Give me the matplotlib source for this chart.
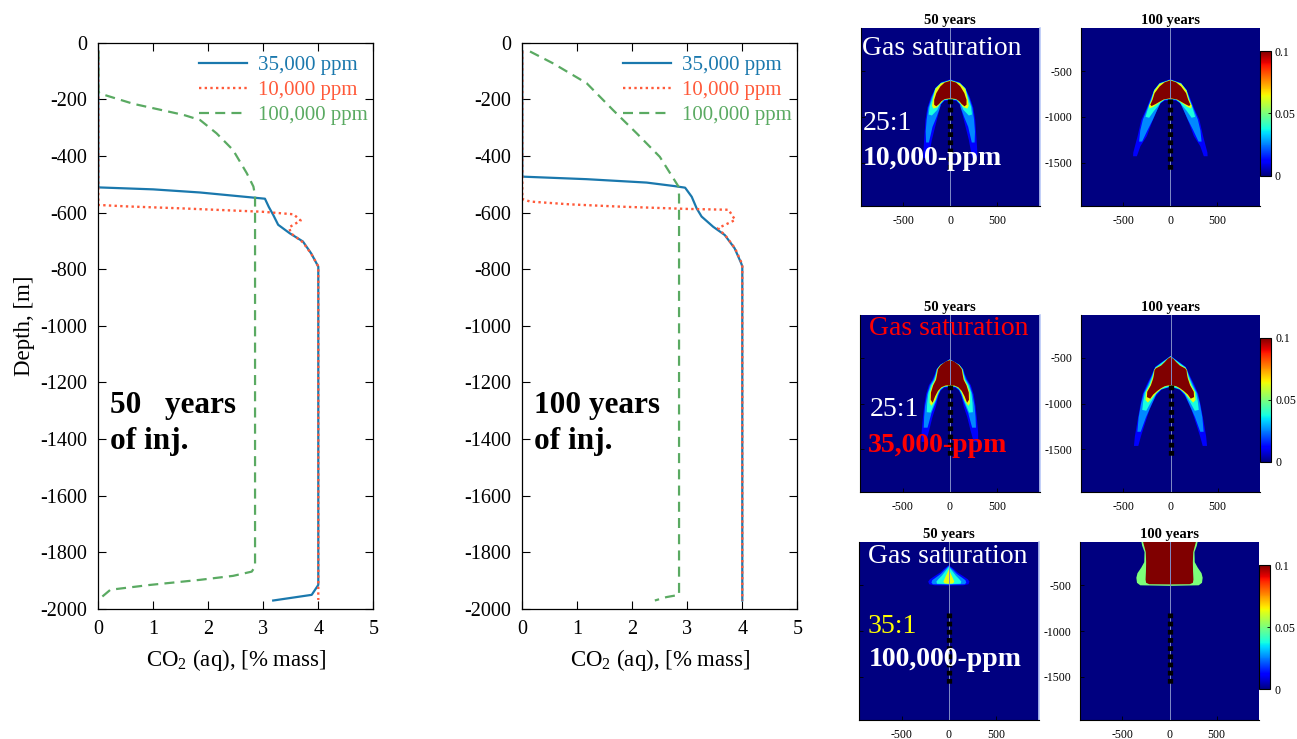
import numpy as np
import matplotlib
matplotlib.use('Agg')
import matplotlib.pyplot as plt
from matplotlib.patches import Polygon
from matplotlib import cm, colors

plt.rcParams['font.family'] = ['Liberation Serif', 'DejaVu Serif']
plt.rcParams['mathtext.fontset'] = 'custom'
plt.rcParams['mathtext.rm'] = 'Liberation Serif'
plt.rcParams['mathtext.it'] = 'Liberation Serif:italic'
plt.rcParams['axes.unicode_minus'] = False

# ---------------- profile data: CO2(aq) [% mass] vs depth [m] ----------------
series_labels = ['35,000 ppm', '10,000 ppm', '100,000 ppm']

# 50 years of injection
co2_35k_50 = [0, 0, 1.0, 1.85, 3.03, 3.1, 3.18, 3.27, 3.48, 3.72, 3.87, 4.0, 4.0, 3.88, 3.18]
dep_35k_50 = [-30, -511, -518, -529, -551, -580, -608, -643, -673, -702, -744, -791, -1915, -1950, -1970]
co2_10k_50 = [0, 0, 0.5, 1.5, 2.98, 3.55, 3.68, 3.47, 3.50, 3.72, 3.87, 4.0, 4.0]
dep_10k_50 = [-30, -573, -578, -585, -597, -606, -628, -652, -673, -705, -745, -790, -1968]
co2_100k_50 = [0, 0, 0.02, 0.64, 1.55, 1.85, 2.15, 2.45, 2.70, 2.82, 2.85, 2.85, 2.79, 2.45, 1.85, 0.94, 0.22, 0]
dep_100k_50 = [-30, -170, -179, -216, -255, -273, -320, -379, -461, -508, -540, -1850, -1868, -1883, -1897, -1915, -1932, -1968]

# 100 years of injection
co2_35k_100 = [0, 0, 1.17, 2.26, 2.75, 2.96, 3.08, 3.17, 3.26, 3.47, 3.68, 3.86, 3.98, 4.0, 4.0]
dep_35k_100 = [-30, -473, -482, -494, -506, -512, -544, -585, -614, -650, -679, -726, -779, -790, -1970]
co2_10k_100 = [0, 0, 0.14, 0.87, 1.78, 2.99, 3.75, 3.87, 3.56, 3.62, 3.69, 3.87, 3.99, 4.0, 4.0]
dep_10k_100 = [-30, -552, -561, -571, -579, -587, -590, -626, -655, -668, -680, -727, -779, -790, -1970]
co2_100k_100 = [0.14, 0.56, 1.17, 1.65, 2.08, 2.50, 2.84, 2.85, 2.85, 2.62, 2.41]
dep_100k_100 = [-31, -73, -143, -238, -320, -403, -508, -540, -1950, -1958, -1970]

x_ticks = [0, 1, 2, 3, 4, 5]
y_ticks = [0, -200, -400, -600, -800, -1000, -1200, -1400, -1600, -1800, -2000]

# ---------------- gas saturation plume outlines (right half, mirrored) ----------------
A_blue = [(0,-590),(95,-620),(155,-680),(205,-780),(244,-900),(264,-1030),(276,-1210),(288,-1400),(284,-1450),(232,-1445),(196,-1250),(150,-1060),(120,-940),(100,-866),(62,-826),(0,-820)]
A_lblue = [(0,-596),(98,-627),(157,-684),(200,-790),(234,-900),(252,-1030),(262,-1160),(258,-1280),(228,-1280),(190,-1110),(146,-1000),(116,-915),(100,-860),(62,-818),(0,-812)]
A_cyan = [(0,-599),(100,-631),(159,-690),(193,-800),(220,-890),(230,-975),(196,-985),(140,-925),(110,-862),(66,-814),(0,-808)]
A_yel = [(0,-602),(102,-635),(160,-697),(184,-805),(196,-878),(180,-910),(140,-895),(108,-856),(70,-810),(0,-804)]
A_red = [(0,-607),(60,-625),(106,-668),(149,-741),(172,-814),(172,-868),(150,-885),(120,-860),(96,-830),(60,-806),(0,-797)]

B_blue = [(0,-588),(112,-628),(170,-700),(212,-800),(258,-920),(308,-1030),(348,-1210),(394,-1390),(396,-1430),(356,-1430),(318,-1320),(250,-1210),(192,-1050),(144,-930),(106,-854),(60,-824),(0,-820)]
B_lblue = [(0,-593),(114,-633),(171,-705),(208,-810),(250,-920),(292,-1030),(320,-1150),(332,-1270),(300,-1270),(240,-1140),(186,-1030),(140,-925),(106,-850),(60,-816),(0,-812)]
B_cyan = [(0,-595),(115,-636),(172,-710),(204,-815),(238,-910),(264,-1000),(226,-1010),(174,-935),(130,-882),(100,-842),(60,-810),(0,-806)]
B_yel = [(0,-597),(115,-640),(172,-715),(198,-815),(228,-880),(220,-908),(178,-890),(132,-855),(100,-832),(60,-808),(0,-803)]
B_red = [(0,-602),(60,-622),(114,-668),(167,-741),(190,-814),(213,-868),(200,-882),(160,-862),(106,-830),(71,-810),(0,-797)]

C_blue = [(0,-512),(100,-572),(142,-625),(160,-680),(186,-740),(222,-800),(252,-900),(272,-1030),(289,-1200),(299,-1320),(299,-1420),(252,-1420),(220,-1300),(184,-1150),(146,-1030),(122,-920),(98,-860),(60,-828),(0,-822)]
C_lblue = [(0,-516),(100,-576),(139,-625),(153,-680),(175,-740),(210,-800),(240,-900),(262,-1030),(272,-1150),(276,-1265),(236,-1265),(194,-1105),(148,-985),(122,-905),(98,-852),(60,-820),(0,-815)]
C_cyan = [(0,-518),(100,-578),(135,-625),(147,-680),(164,-740),(198,-800),(226,-880),(240,-1000),(244,-1095),(204,-1100),(158,-985),(130,-905),(100,-845),(60,-815),(0,-810)]
C_yel = [(0,-520),(100,-580),(131,-625),(141,-680),(154,-740),(185,-800),(210,-880),(214,-995),(196,-1026),(152,-962),(122,-872),(90,-828),(50,-810),(0,-806)]
C_red = [(0,-526),(45,-540),(95,-580),(126,-625),(135,-680),(146,-740),(176,-800),(200,-880),(202,-960),(182,-992),(156,-922),(126,-862),(90,-822),(50,-804),(0,-797)]

D_blue = [(0,-477),(164,-598),(198,-680),(220,-726),(256,-800),(297,-900),(322,-1030),(352,-1200),(378,-1360),(388,-1465),(342,-1465),(314,-1360),(274,-1230),(220,-1060),(156,-922),(100,-854),(60,-830),(0,-824)]
D_lblue = [(0,-481),(162,-603),(192,-680),(211,-726),(244,-800),(285,-890),(312,-1000),(338,-1150),(352,-1310),(316,-1310),(260,-1150),(200,-1010),(152,-902),(100,-848),(0,-816)]
D_cyan = [(0,-483),(160,-606),(186,-680),(202,-726),(231,-800),(272,-880),(290,-980),(300,-1070),(258,-1080),(206,-982),(150,-892),(100,-842),(0,-811)]
D_yel = [(0,-486),(60,-540),(100,-580),(158,-610),(176,-635),(181,-680),(192,-726),(218,-800),(258,-872),(266,-962),(240,-990),(190,-932),(140,-872),(60,-814),(0,-806)]
D_red = [(0,-491),(30,-510),(60,-545),(100,-585),(155,-615),(170,-635),(175,-680),(184,-726),(208,-800),(247,-872),(250,-930),(215,-947),(184,-902),(140,-862),(100,-832),(60,-810),(0,-797)]

E_blue = [(0,-282),(45,-318),(95,-365),(155,-405),(200,-436),(218,-462),(208,-490),(150,-502),(0,-504)]
E_lblue = [(0,-290),(40,-330),(85,-378),(138,-418),(175,-446),(184,-472),(170,-490),(0,-495)]
E_cyan = [(0,-300),(34,-345),(72,-395),(110,-435),(132,-462),(124,-485),(0,-489)]
E_yel = [(0,-328),(22,-378),(44,-428),(58,-464),(42,-482),(0,-486)]

F_green = [(0,-20),(300,-20),(290,-70),(265,-140),(268,-250),(300,-310),(340,-370),(352,-420),(345,-475),(310,-502),(0,-508)]
F_red = [(0,-20),(283,-20),(270,-70),(252,-140),(248,-250),(250,-350),(254,-440),(248,-475),(215,-490),(0,-492)]

sat_blue, sat_lblue, sat_cyan, sat_yel, sat_green, sat_red = 0.012, 0.026, 0.038, 0.063, 0.05, 0.1

panel_titles = ['50 years', '100 years']
cbar_ticks = [0, 0.05, 0.1]
cbar_ticklabels = ['0', '0.05', '0.1']
panel_xticks = [-500, 0, 500]
panel_yticks = [-1500, -1000, -500]
well_top, well_bottom = -800, -1578

# ---------------- figure ----------------
W, H = 1297, 739
fig = plt.figure(figsize=(W / 100, H / 100), dpi=100)
fig.patch.set_facecolor('white')

def add_ax(l, t, r, b):
    return fig.add_axes([l / W, 1 - b / H, (r - l) / W, (b - t) / H])

c_blue = '#1a78ad'
c_red = '#ff5a3a'
c_green = '#5aaa62'

def profile(ax, data, txt):
    (x1, y1), (x2, y2), (x3, y3) = data
    ax.plot(x1, y1, color=c_blue, lw=1.6, label=series_labels[0])
    ax.plot(x2, y2, color=c_red, lw=1.7, ls=(0, (1, 1.4)), label=series_labels[1])
    ax.plot(x3, y3, color=c_green, lw=1.6, ls=(0, (4.5, 2.8)), label=series_labels[2])
    ax.set_xlim(0, 5)
    ax.set_ylim(-2000, 0)
    ax.set_xticks(x_ticks)
    ax.set_yticks(y_ticks)
    ax.tick_params(direction='in', top=True, right=True, length=6, width=0.8,
                   labelsize=14.5, pad=8)
    for s in ax.spines.values():
        s.set_linewidth(0.9)
    leg = ax.legend(loc='upper right', bbox_to_anchor=(0.995, 0.985), frameon=False,
                    fontsize=15, handlelength=2.3, labelspacing=0.26, borderaxespad=0,
                    handletextpad=0.55, borderpad=0.2)
    for t, l in zip(leg.get_texts(), leg.get_lines()):
        t.set_color(l.get_color())
    ax.set_xlabel(r'CO$_{2}$ (aq), [% mass]', fontsize=16.5, labelpad=6)
    ax.text(0.22, -1282, txt[0], fontsize=22.5, fontweight='bold', va='center')
    ax.text(0.22, -1407, txt[1], fontsize=22.5, fontweight='bold', va='center')

ax1 = add_ax(98.3, 42.7, 373.3, 609)
profile(ax1, [(co2_35k_50, dep_35k_50), (co2_10k_50, dep_10k_50), (co2_100k_50, dep_100k_50)],
        ['50   years', 'of inj.'])
ax1.set_ylabel('Depth, [m]', fontsize=16.5, labelpad=4)

ax2 = add_ax(522.3, 42.7, 797.3, 609)
profile(ax2, [(co2_35k_100, dep_35k_100), (co2_10k_100, dep_10k_100), (co2_100k_100, dep_100k_100)],
        ['100 years', 'of inj.'])

cmap = plt.get_cmap('jet')
norm = colors.Normalize(0, 0.1)

def mirror(half):
    h = np.asarray(half, dtype=float)
    m = h[::-1].copy()
    m[:, 0] *= -1
    return np.vstack([h, m])

def panel(box, layers, title, show_ylabels, light_right):
    ax = add_ax(*box)
    ax.set_facecolor(cmap(0.0))
    for val, half in layers:
        ax.add_patch(Polygon(mirror(half), closed=True, facecolor=cmap(norm(val)),
                             edgecolor='none', zorder=2))
    ax.axvline(0, color=(0.5, 0.55, 0.78), lw=0.7, zorder=3)
    ax.plot([0, 0], [well_top, well_bottom], color='k', lw=3.8,
            ls=(0, (0.9, 0.65)), solid_capstyle='butt', zorder=4)
    ax.set_xlim(-950, 950)
    ax.set_ylim(-1970, -30)
    ax.set_xticks(panel_xticks)
    ax.set_yticks(panel_yticks)
    ax.tick_params(direction='in', length=3, width=0.6, labelsize=8.5, pad=6.5,
                   labelleft=show_ylabels)
    ax.spines['top'].set_visible(False)
    if light_right:
        ax.spines['right'].set_color((0.72, 0.78, 0.97))
        ax.spines['right'].set_linewidth(1.2)
    else:
        ax.spines['right'].set_visible(False)
    ax.set_title(title, fontsize=10.5, fontweight='bold', pad=3)
    return ax

def cbar(box):
    cax = add_ax(*box)
    cb = fig.colorbar(cm.ScalarMappable(norm=norm, cmap=cmap), cax=cax, ticks=cbar_ticks)
    cb.ax.set_yticklabels(cbar_ticklabels)
    cb.ax.tick_params(labelsize=8.5, length=2, width=0.6, direction='in', pad=3)
    cb.outline.set_linewidth(0.8)

layers_A = [(sat_blue, A_blue), (sat_lblue, A_lblue), (sat_cyan, A_cyan), (sat_yel, A_yel), (sat_red, A_red)]
layers_B = [(sat_blue, B_blue), (sat_lblue, B_lblue), (sat_cyan, B_cyan), (sat_yel, B_yel), (sat_red, B_red)]
layers_C = [(sat_blue, C_blue), (sat_lblue, C_lblue), (sat_cyan, C_cyan), (sat_yel, C_yel), (sat_red, C_red)]
layers_D = [(sat_blue, D_blue), (sat_lblue, D_lblue), (sat_cyan, D_cyan), (sat_yel, D_yel), (sat_red, D_red)]
layers_E = [(sat_blue, E_blue), (sat_lblue, E_lblue), (sat_cyan, E_cyan), (sat_yel, E_yel)]
layers_F = [(sat_green, F_green), (sat_red, F_red)]

axA = panel((861, 28, 1039.7, 205.7), layers_A, panel_titles[0], False, True)
axB = panel((1081, 28, 1259.7, 205.7), layers_B, panel_titles[1], True, False)
cbar((1259.7, 51, 1270.7, 175.7))
axC = panel((860, 315, 1039.7, 492), layers_C, panel_titles[0], False, True)
axD = panel((1081, 315, 1260, 492), layers_D, panel_titles[1], True, False)
cbar((1260, 338, 1271, 462))
axE = panel((859, 542, 1038.7, 720), layers_E, panel_titles[0], False, True)
axF = panel((1080, 542, 1259, 720), layers_F, panel_titles[1], True, False)
cbar((1259, 565, 1270, 689))

def overlay(ax, items):
    for x, y, s, c, w in items:
        ax.text(x, y, s, color=c, fontsize=20, fontweight=w, va='center', ha='left',
                clip_on=False, zorder=6)

overlay(axA, [(-935, -250, 'Gas saturation', 'white', 'normal'),
              (-935, -1078, '25:1', 'white', 'normal'),
              (-930, -1460, '10,000-ppm', 'white', 'bold')])
overlay(axC, [(-860, -175, 'Gas saturation', 'red', 'normal'),
              (-850, -1071, '25:1', 'white', 'normal'),
              (-866, -1460, '35,000-ppm', 'red', 'bold')])
overlay(axE, [(-858, -185, 'Gas saturation', 'white', 'normal'),
              (-858, -954, '35:1', '#ffff00', 'normal'),
              (-852, -1310, '100,000-ppm', 'white', 'bold')])

fig.savefig('out.png', dpi=100, facecolor='white')
